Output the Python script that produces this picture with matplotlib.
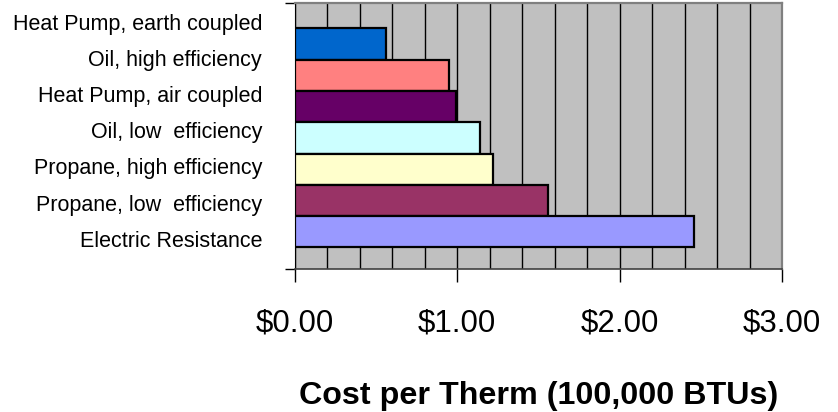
import numpy as np
import matplotlib
matplotlib.use("Agg")
import matplotlib.pyplot as plt
from matplotlib.ticker import MultipleLocator, FuncFormatter

# Heating fuel options (top to bottom) and their cost per therm in dollars
categories = [
    "Heat Pump, earth coupled",
    "Oil, high efficiency",
    "Heat Pump, air coupled",
    "Oil, low  efficiency",
    "Propane, high efficiency",
    "Propane, low  efficiency",
    "Electric Resistance",
]
costs = [0.56, 0.95, 0.99, 1.14, 1.22, 1.56, 2.46]
bar_colors = ["#0066CC", "#FF8080", "#660066", "#CCFFFF", "#FFFFCC", "#993366", "#9999FF"]
x_ticks = [0, 1, 2, 3]

plt.rcParams["font.family"] = ["Liberation Sans", "DejaVu Sans"]

W, H, DPI = 838, 412, 100
fig = plt.figure(figsize=(W / DPI, H / DPI), dpi=DPI)
ax = fig.add_axes([295 / W, 1 - 269.3 / H, (782 - 295) / W, (269.3 - 3.3) / H])

n = len(categories)
ypos = np.arange(n)[::-1]  # first category drawn at the top
ax.barh(ypos, costs, height=1.0, color=bar_colors, edgecolor="black",
        linewidth=1.6, zorder=3)

ax.set_facecolor("#C0C0C0")
ax.set_xlim(0, 3)
ax.set_ylim(-1.2, n - 1 + 0.5 + 0.8)

# Gridlines every $0.20, labelled ticks every $1.00
ax.xaxis.set_major_locator(MultipleLocator(1))
ax.xaxis.set_minor_locator(MultipleLocator(0.2))
ax.grid(True, which="both", axis="x", color="black", linewidth=1.0, zorder=1)
ax.set_axisbelow(True)
ax.xaxis.set_major_formatter(FuncFormatter(lambda v, p: f"${v:.2f}"))
ax.set_xticks(x_ticks)
ax.tick_params(axis="x", which="major", length=9, width=1, direction="out",
               color="black", labelsize=22.5, pad=19)
ax.tick_params(axis="x", which="minor", length=0)

# Category axis: tick marks only at the two ends
ax.set_yticks(list(ax.get_ylim()))
ax.set_yticklabels([])
ax.tick_params(axis="y", length=7, width=1, direction="out", color="black")

for side in ("top", "right"):
    ax.spines[side].set_color("#808080")
    ax.spines[side].set_linewidth(1.6)
ax.spines["left"].set_color("black")
ax.spines["bottom"].set_color("#404040")
ax.spines["bottom"].set_linewidth(1.2)

# Category labels, evenly spaced down the left side
label_y = np.linspace(1 - 30 / H, 1 - 246.7 / H, n)
for name, yy in zip(categories, label_y):
    fig.text(262 / W, yy, name, ha="right", va="baseline", fontsize=15.5)

ax.set_xlabel("Cost per Therm (100,000 BTUs)", fontsize=23.2, fontweight="bold",
              va="baseline")
ax.xaxis.set_label_coords(0.5, (269.3 - 404) / (269.3 - 3.3))

fig.savefig("out.png", dpi=DPI)
